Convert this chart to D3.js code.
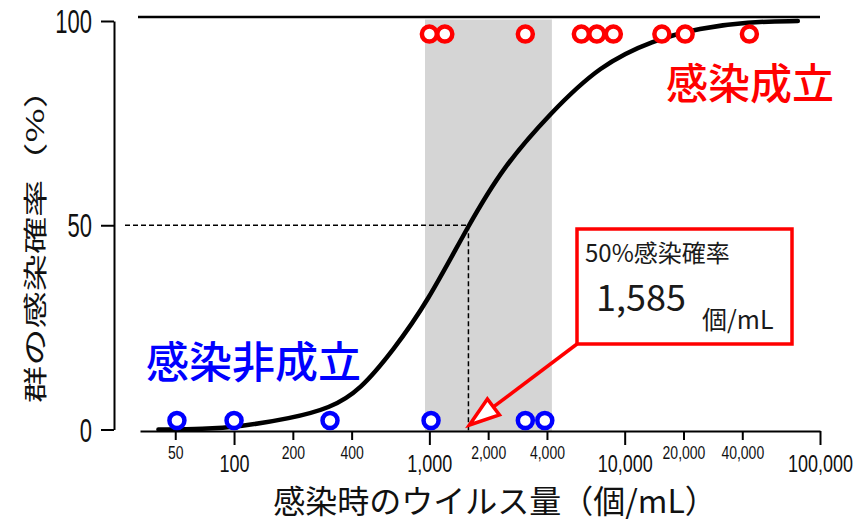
<!DOCTYPE html>
<html>
<head>
<meta charset="utf-8">
<script src="https://cdn.jsdelivr.net/npm/d3@7"></script>
<style>
    body { margin: 0; background: #fff; }
</style>
</head>
<body>
<div id="chart"></div>
<script>
// virus dose (個/mL) of each group
var infectedDose = [1000, 1200, 3100, 6000, 7200, 8750, 15500, 20400, 43500];
var notInfectedDose = [51, 100, 310, 1020, 3100, 3900];
var infectedLevel = 96.8;    // circles are drawn just under 100 %
var notInfectedLevel = 2.2;  // and just above 0 %

// fitted dose-response curve
var curveDose = [41, 70, 107, 194, 310, 442, 655, 970, 1585, 2390, 4150, 7480, 13960, 24300, 42400, 77000];
var curvePct = [0, 0.1, 0.7, 2.7, 5.2, 9.6, 19.5, 30.9, 50, 64.3, 77.4, 89.2, 95.3, 98.3, 99.8, 100];

var ciRange = [950, 4240];
var id50 = 1585;

var majorTicks = [100, 1000, 10000, 100000];
var minorTicks = [50, 200, 400, 2000, 4000, 20000, 40000];
var yTicks = [0, 50, 100];

var width = 855;
var height = 521;
var jp = "'Noto Sans CJK JP', 'Noto Sans', sans-serif";
var num = "'Liberation Sans', Arial, sans-serif";

var svg = d3.select("#chart")
    .append("svg")
    .attr("width", width)
    .attr("height", height);

var x = d3.scaleLog()
    .domain([33, 100000])
    .range([140, 820]);

var y = d3.scaleLinear()
    .domain([0, 100])
    .range([429.5, 21]);

var axisY = y(0) + 1.5;   // x axis sits a little under 0 %
var yAxisX = 114;

// grey band = confidence range
svg.append("rect")
    .attr("x", x(ciRange[0]))
    .attr("y", y(100) - 1.5)
    .attr("width", x(ciRange[1]) - x(ciRange[0]))
    .attr("height", axisY - y(100) + 1.5)
    .attr("fill", "#d5d5d5");

// top rule
svg.append("line")
    .attr("x1", x.range()[0] - 2)
    .attr("x2", x.range()[1])
    .attr("y1", y(100) - 4)
    .attr("y2", y(100) - 4)
    .attr("stroke", "#000")
    .attr("stroke-width", 2.5);

// y axis
var gy = svg.append("g")
    .attr("transform", "translate(" + yAxisX + ",0)")
    .call(d3.axisLeft(y).tickValues(yTicks).tickSize(13).tickSizeOuter(0).tickFormat(d3.format("d")));
gy.select(".domain").attr("stroke-width", 2);
gy.selectAll(".tick line").attr("stroke-width", 2);
gy.selectAll(".tick text")
    .attr("x", 0)
    .attr("dy", "0.36em")
    .attr("transform", "translate(-22,0) scale(1,1.48)")
    .attr("font-family", num)
    .attr("font-size", "22px")
    .attr("fill", "#111");

// x axis, long ticks
var gx = svg.append("g")
    .attr("transform", "translate(0," + axisY + ")")
    .call(d3.axisBottom(x).tickValues(majorTicks).tickSize(14).tickSizeOuter(0).tickFormat(d3.format(",")));
gx.select(".domain").attr("stroke-width", 2);
gx.selectAll(".tick line").attr("stroke-width", 2);
gx.selectAll(".tick text")
    .attr("y", 0)
    .attr("dy", "0.36em")
    .attr("transform", "translate(0,33) scale(1,1.3)")
    .attr("font-family", num)
    .attr("font-size", "18px")
    .attr("fill", "#111");

// x axis, short ticks
var gx2 = svg.append("g")
    .attr("transform", "translate(0," + axisY + ")")
    .call(d3.axisBottom(x).tickValues(minorTicks).tickSize(9).tickSizeOuter(0).tickFormat(d3.format(",")));
gx2.select(".domain").remove();
gx2.selectAll(".tick line").attr("stroke-width", 2);
gx2.selectAll(".tick text")
    .attr("y", 0)
    .attr("dy", "0.36em")
    .attr("transform", "translate(0,21) scale(1,1.3)")
    .attr("font-family", num)
    .attr("font-size", "14px")
    .attr("fill", "#111");

// dashed guides at 50 %
svg.append("line")
    .attr("x1", yAxisX + 11)
    .attr("x2", x(id50))
    .attr("y1", y(50))
    .attr("y2", y(50))
    .attr("stroke", "#000")
    .attr("stroke-width", 1.5)
    .attr("stroke-dasharray", "5,3");
svg.append("line")
    .attr("x1", x(id50))
    .attr("x2", x(id50))
    .attr("y1", y(50))
    .attr("y2", axisY)
    .attr("stroke", "#000")
    .attr("stroke-width", 1.5)
    .attr("stroke-dasharray", "5,3");

// curve
var curve = curveDose.map(function (d, i) {
    return [d, curvePct[i]];
});
svg.append("path")
    .datum(curve)
    .attr("fill", "none")
    .attr("stroke", "#000")
    .attr("stroke-width", 4.5)
    .attr("stroke-linejoin", "round")
    .attr("stroke-linecap", "round")
    .attr("d", d3.line()
        .curve(d3.curveBasis)
        .x(function (d) { return x(d[0]); })
        .y(function (d) { return y(d[1]); }));

// circles: white fills first, then rings, so overlapping rings stay visible
function drawDots(doses, level, color) {
    var g = svg.append("g");
    g.selectAll(".fill")
        .data(doses)
        .enter().append("circle")
        .attr("cx", function (d) { return x(d); })
        .attr("cy", y(level))
        .attr("r", 7.5)
        .attr("fill", "#fff");
    g.selectAll(".ring")
        .data(doses)
        .enter().append("circle")
        .attr("cx", function (d) { return x(d); })
        .attr("cy", y(level))
        .attr("r", 7.5)
        .attr("fill", "none")
        .attr("stroke", color)
        .attr("stroke-width", 4.5);
}
drawDots(infectedDose, infectedLevel, "#ff0000");
drawDots(notInfectedDose, notInfectedLevel, "#0000ff");

// group labels
svg.append("text")
    .attr("x", 666)
    .attr("y", 99)
    .attr("font-family", jp)
    .attr("font-size", "42px")
    .attr("font-weight", 500)
    .attr("fill", "#ff0000")
    .text("感染成立");

svg.append("text")
    .attr("x", 146)
    .attr("y", 378)
    .attr("font-family", jp)
    .attr("font-size", "43px")
    .attr("font-weight", 500)
    .attr("fill", "#0000ff")
    .text("感染非成立");

// axis titles
svg.append("text")
    .attr("x", 495)
    .attr("y", 513)
    .attr("text-anchor", "middle")
    .attr("font-family", jp)
    .attr("font-size", "32px")
    .attr("fill", "#111")
    .text("感染時のウイルス量（個/mL）");

svg.append("text")
    .attr("transform", "translate(34,237) scale(1,1.55) rotate(-90)")
    .attr("text-anchor", "middle")
    .attr("dominant-baseline", "central")
    .attr("font-family", jp)
    .attr("font-size", "24px")
    .attr("fill", "#111")
    .text("群の感染確率（%）");

// call-out box with arrow to the 50 % dose
var box = { x: 577, y: 229, w: 215, h: 115 };
var tip = [x(id50) + 1, axisY - 6];
var from = [box.x, box.y + box.h];
var dx = from[0] - tip[0], dy = from[1] - tip[1];
var len = Math.sqrt(dx * dx + dy * dy);
var ux = dx / len, uy = dy / len;
var headLen = 30, headHalf = 10;
var base = [tip[0] + ux * headLen, tip[1] + uy * headLen];

svg.append("line")
    .attr("x1", from[0])
    .attr("y1", from[1])
    .attr("x2", base[0])
    .attr("y2", base[1])
    .attr("stroke", "#ff0000")
    .attr("stroke-width", 3.5);

svg.append("polygon")
    .attr("points", [
        tip,
        [base[0] - uy * headHalf, base[1] + ux * headHalf],
        [base[0] + uy * headHalf, base[1] - ux * headHalf]
    ].map(function (p) { return p.join(","); }).join(" "))
    .attr("fill", "#fff")
    .attr("stroke", "#ff0000")
    .attr("stroke-width", 3.5)
    .attr("stroke-linejoin", "miter");

svg.append("rect")
    .attr("x", box.x)
    .attr("y", box.y)
    .attr("width", box.w)
    .attr("height", box.h)
    .attr("fill", "#fff")
    .attr("stroke", "#ff0000")
    .attr("stroke-width", 3.5);

svg.append("text")
    .attr("x", 585)
    .attr("y", 262)
    .attr("font-family", jp)
    .attr("font-size", "24px")
    .attr("fill", "#1a1a1a")
    .text("50%感染確率");

svg.append("text")
    .attr("x", 596)
    .attr("y", 311)
    .attr("font-family", jp)
    .attr("font-size", "36px")
    .attr("fill", "#1a1a1a")
    .text(d3.format(",")(id50));

svg.append("text")
    .attr("x", 702)
    .attr("y", 329)
    .attr("font-family", jp)
    .attr("font-size", "25px")
    .attr("fill", "#1a1a1a")
    .text("個/mL");
</script>
</body>
</html>
